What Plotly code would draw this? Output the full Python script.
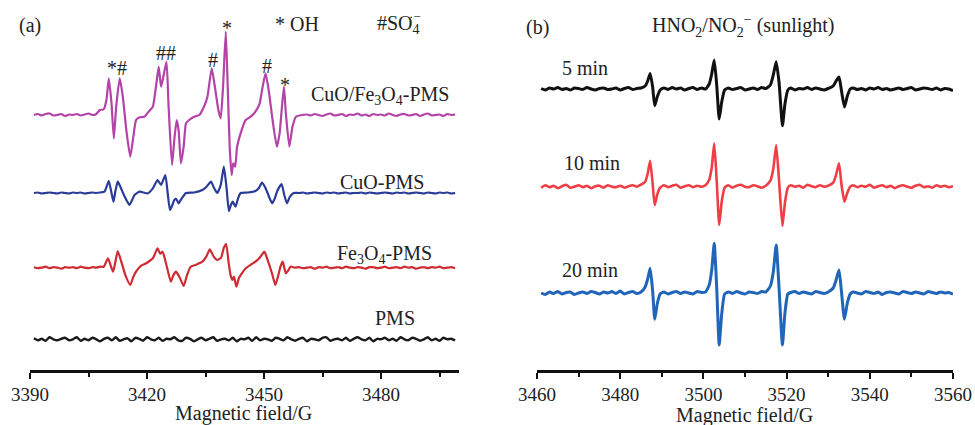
import plotly.graph_objects as go

# ================= Panel (a): DMPO spin-trap spectra (field in G, signal in relative units) =================
CUFE_X = [3391, 3392, 3393, 3394, 3395, 3396, 3397, 3398, 3399, 3400, 3401, 3402, 3403, 3404, 3405, 3406, 3407,
          3407.9, 3408.9, 3409.6, 3410.2, 3410.9, 3411.5, 3412.1, 3413.0, 3413.8, 3414.7, 3415.7, 3416.5, 3417.2,
          3418.1, 3419.3, 3420.4, 3421.5, 3422.3, 3423.0, 3423.6, 3424.2, 3425.0, 3425.5, 3426.4, 3427.0, 3427.6,
          3428.1, 3428.7, 3429.4, 3430.0, 3430.8, 3432.1, 3433.4, 3434.6, 3435.5, 3436.6, 3437.4, 3438.3, 3438.9,
          3439.5, 3440.2, 3440.7, 3441.2, 3441.7, 3442.1, 3442.6, 3443.1, 3444.0, 3445.3, 3446.6, 3447.8, 3448.9,
          3449.5, 3450.4, 3451.2, 3452.2, 3453.3, 3454.0, 3455.1, 3455.6, 3456.5, 3457.3, 3458.2, 3459.7,
          3461, 3462, 3463, 3464, 3465, 3466, 3467, 3468, 3469, 3470, 3471, 3472, 3473, 3474, 3475, 3476, 3477,
          3478, 3479, 3480, 3481, 3482, 3483, 3484, 3485, 3486, 3487, 3488, 3489, 3490, 3491, 3492, 3493, 3494,
          3495, 3496, 3497, 3498, 3499]
CUFE_Y = [0, 1, -0.5, 1, 1.5, -0.5, 0, 1, -1, 0.5, 0, 1, -0.5, 0.5, 1.5, 0, 1,
          5, 5.7, 15, 36.7, 11.7, -23.3, 8.3, 36.7, 18.3, -15, -41.7, -21.7, -5,
          -2.3, -1.7, 3.3, 8.3, 28.3, 48.3, 28.3, 38.3, 53.3, 11.7, -50, -25, -5,
          -15, -48.3, -31.7, -8.3, -5, -1.7, 0, 8.3, 18.3, 46.7, 28.3, 5, -3.3,
          28.3, 83.3, 28.3, -31.7, -60, -48.3, -51.7, -31.7, -18.3, -5, -1.7, 3.3, 11.7,
          25, 41.7, 25, -5, -31.7, -18.3, 28.3, 1.7, -31.7, -11.7, -1.7, 0,
          0.5, -0.5, 1, 0, -1, 0.5, 1.5, -0.5, 0, 1, -1, 0.5, 0, 1.5, -0.5, 0.5, -1,
          1, 0, 0.5, -0.5, 1.5, 0, -1, 0.5, 1, -0.5, 0, 1, -1, 0.5, 1.5, -0.5, 0,
          0.5, -1, 1, 0, 0.5]

CUO_X = [3391, 3392, 3393, 3394, 3395, 3396, 3397, 3398, 3399, 3400, 3401, 3402, 3403, 3404, 3405, 3406, 3407, 3408,
         3409.1, 3410.2, 3410.8, 3411.4, 3411.9, 3412.5, 3413.2, 3414.2, 3415.5, 3416.3, 3416.8, 3418.1, 3420.2,
         3421.5, 3422.7, 3423.6, 3424.7, 3425.3, 3425.9, 3426.5, 3427.0, 3427.5, 3428.1, 3428.8, 3430.0, 3432.1,
         3434.2, 3435.2, 3436.4, 3437.2, 3438.0, 3438.9, 3439.7, 3440.4, 3441.0, 3441.5, 3442.0, 3442.7, 3443.3,
         3444.0, 3445.9, 3447.8, 3448.7, 3449.5, 3450.5, 3451.2, 3452.1, 3452.8, 3453.5, 3454.5, 3455.2, 3455.9,
         3456.6, 3457.6,
         3459, 3460, 3461, 3462, 3463, 3464, 3465, 3466, 3467, 3468, 3469, 3470, 3471, 3472, 3473, 3474, 3475,
         3476, 3477, 3478, 3479, 3480, 3481, 3482, 3483, 3484, 3485, 3486, 3487, 3488, 3489, 3490, 3491, 3492,
         3493, 3494, 3495, 3496, 3497, 3498, 3499]
CUO_Y = [0, 0.5, -0.5, 0, 0.5, 0, -0.5, 0.5, 0, -0.5, 0.5, 0, 0.5, -0.5, 0, 0.5, 0, 0.5,
         1.3, 12, 2, -8.7, 2, 11.3, 6, -3, -12, -6, -2, 1.3, -0.3,
         4.7, 13, 8, 18, 0, -17, -12, -7, -6, -10.3, -6, 0, 0.5,
         3, 6, 11.3, 5, 0, 8, 26.3, 5, -18, -12, -8.7, -13.7, -6,
         0, 0.5, 2, 5, 10.3, 4, -3, -10.3, -5, 3, 9, -2, -10.3,
         -4, 0,
         0, 0.5, -0.5, 0, 0.5, 0, -0.5, 0.5, 0, 0.5, -0.5, 0, 0.5, -0.5, 0, 0, 0.5,
         -0.5, 0.5, 0, -0.5, 0, 0.5, 0, -0.5, 0.5, 0, 0.5, -0.5, 0, 0.5, 0, -0.5, 0.5,
         0, -0.5, 0.5, 0, 0.5, -0.5, 0]

FE_X = [3391, 3392, 3393, 3394, 3395, 3396, 3397, 3398, 3399, 3400, 3401, 3402, 3403, 3404, 3405, 3406, 3407, 3408,
        3408.9, 3410.0, 3410.7, 3411.3, 3411.9, 3412.5, 3413.4, 3414.5, 3415.7, 3416.5, 3417.2, 3418.5, 3419.8,
        3421.5, 3422.7, 3423.4, 3424.0, 3424.9, 3426.1, 3426.7, 3427.4, 3428.3, 3429.4, 3430.3, 3431.2, 3432.6,
        3434.2, 3435.2, 3436.1, 3437.1, 3438.0, 3439.0, 3439.7, 3440.3, 3440.9, 3441.4, 3441.9, 3442.3, 3442.9,
        3443.6, 3445.3, 3446.6, 3447.8, 3448.9, 3450.1, 3450.9, 3452.0, 3452.9, 3453.5, 3454.3, 3454.8, 3455.2,
        3455.6, 3456.2, 3456.8, 3457.9,
        3459, 3460, 3461, 3462, 3463, 3464, 3465, 3466, 3467, 3468, 3469, 3470, 3471, 3472, 3473, 3474, 3475,
        3476, 3477, 3478, 3479, 3480, 3481, 3482, 3483, 3484, 3485, 3486, 3487, 3488, 3489, 3490, 3491, 3492,
        3493, 3494, 3495, 3496, 3497, 3498, 3499]
FE_Y = [0.5, -0.5, 0, 1, -0.5, 0.5, 0, -1, 0.5, 0, 0.5, -0.5, 1, 0, -0.5, 0.5, 0, 1,
        1, 9.4, 2, -4, 6, 16.7, 6, -8, -17.3, -9, -4, 2, 4.4,
        9.4, 19.4, 14, 16, 4, -14, -8, -4, -9, -18.3, -7, 1, 3,
        6, 11, 18.4, 11, 7.7, 10, 20, 23.7, 6, -7, -12.3, -9, -19,
        -10, -0.6, 3, 6, 10, 16, 8, -5, -17.3, -10, 2, 6, 0,
        -5.6, -3, 1, 0,
        0.5, -0.5, 0, 0.5, -1, 0.5, 0, 1, -0.5, 0, 0.5, -0.5, 1, 0, -0.5, 0.5, 0,
        -1, 0.5, 0.5, -0.5, 0, 1, -0.5, 0, 0.5, -0.5, 1, 0, 0.5, -1, 0, 0.5, -0.5,
        0.5, 0, 1, -0.5, 0, 0.5, -0.5]

PMS_X = list(range(3391, 3500))
PMS_Y = [1, -1, 0.5, -1.5, 2, 0, -1, 0.5, 1.5, -1, 0, 2, -1.5, 0.5, -1, 1.5, 0, -2, 0.5, 1.5, -1, 2, -1.5, 0, 1, -2,
         1.5, 0.5, -1.5, 2, 0, -1, 1.5, -1.5, 0.5, 0, 2, -1, -1.5, 1.5, 0.5, -2, 0, 1.5, -1, 0.5, 2, -1.5, 0, 0.5,
         -1, 1.5, -2, 0.5, 0, 1.5, -1.5, 2, -1, 0.5, 0, -1.5, 1.5, 0.5, -1, 2, 0, -1.5, 0.5, 1.5, -2, 0.5, 0, -1,
         1.5, 2, -1.5, 0, 0.5, -1, 1.5, -1.5, 0.5, 2, 0, -1, 1.5, -2, 0.5, 0, 1.5, -1, 0.5, -1.5, 2, 0, -1, 1.5,
         0.5, -1.5, 0, 2, -1, 0.5, -1.5, 1.5, 0, 0.5, -1]

A_TICKS = [3390, 3420, 3450, 3480]
A_MINOR = [3405, 3435, 3465, 3495]

# ================= Panel (b): HNO2/NO2- under sunlight =================
B_X = [3461, 3462, 3463, 3464, 3465, 3466, 3467, 3468, 3469, 3470, 3471, 3472, 3473, 3474, 3475, 3476, 3477,
       3478, 3479, 3480, 3481, 3482, 3483, 3484, 3485,
       3486, 3486.6, 3487.2, 3487.8, 3488.3, 3488.9, 3489.6,
       3490.5, 3491.5, 3492.5, 3493.5, 3494.5, 3495.5, 3496.5, 3497.5, 3498.5, 3499.5, 3500.5,
       3501.4, 3502.0, 3502.6, 3503.2, 3503.8, 3504.4, 3505.1,
       3506, 3507, 3508, 3509, 3510, 3511, 3512, 3513, 3514, 3515,
       3516.1, 3516.8, 3517.5, 3518.2, 3519.0, 3519.6, 3520.3,
       3521, 3522, 3523, 3524, 3525, 3526, 3527, 3528, 3529, 3530,
       3531.2, 3531.9, 3532.6, 3533.2, 3533.9, 3534.6, 3535.3,
       3536, 3537, 3538, 3539, 3540, 3541, 3542, 3543, 3544, 3545, 3546, 3547, 3548, 3549, 3550, 3551, 3552,
       3553, 3554, 3555, 3556, 3557, 3558, 3559, 3560]
MIN5_Y = [0.5, -1, 1, 0, 1.5, -0.5, 0.5, -1, 1, 0.5, -0.5, 1.5, 0, -1, 0.5, 1, -0.5, 0, 1, -1, 0.5, 1.5, -0.5, 0.5, 1,
          3, 8, 15.6, 2, -16.7, -8, -1,
          1, -0.5, 1.5, 0, 1, -1, 0.5, 1.5, -0.5, 1, 0,
          5, 15, 29, 4, -30, -13, -1,
          1, -0.5, 0.5, 1.5, -1, 0, 1, -0.5, 1.5, 0.5,
          4, 14, 27.3, 6, -36.7, -15, -1,
          1, -1, 0.5, 0, 1.5, -0.5, 1, 0, -1, 0.5,
          3, 8, 12, -2, -18, -7, 0,
          1, -0.5, 0.5, -1, 1, 0, 1.5, -0.5, 0.5, -1, 0, 1, -0.5, 0.5, 1.5, -1, 0, 1, 0.5, -0.5, 1, -1, 0.5, 0, -1.5]
MIN10_Y = [-1, 1.5, -0.5, 1, -1.5, 0.5, 2, -1, 0, 1.5, -0.5, 1, -1.5, 0.5, 1, -1, 1.5, 0, -0.5, 1, -1, 0.5, 1.5, 0, 2,
           5, 13, 26, 3, -18.3, -8, -1,
           1.5, -0.5, 1, 2, -1, 0.5, 1.5, -0.5, 1, 0, 1.5,
           7, 19, 43.4, 6, -38.3, -15, -1,
           1.5, -1, 1, 2, 0, -0.5, 1.5, 0.5, -1, 1,
           6, 18, 41.7, 5, -39.3, -16, -1,
           1.5, 0, 1, -1, 2, 0.5, -0.5, 1.5, 0, 1,
           4, 12, 23.4, 2, -15, -6, 0,
           1.5, -0.5, 1, 0, 2, -1, 0.5, 1.5, -0.5, 1, -1.5, 0.5, 1.5, 0, -1, 1, 2, -0.5, 0.5, -1, 1.5, 0, 1, -0.5, 0.5]
MIN20_Y = [0, -1.5, 1, -0.5, 1.5, -1, 0.5, 1, -1.5, 0, 1, -0.5, 1.5, 0.5, -1, 1, 0, 1.5, -0.5, 2, -1, 0.5, 1.5, -0.5, 1,
           6, 14, 24.7, 2, -26.3, -11, -1,
           1, -1, 0.5, 1.5, -0.5, 1, 0, -1, 1.5, 0.5, 1,
           8, 23, 49.7, 5, -52, -21, -1,
           1, -0.5, 1.5, 0, -1, 1, 0.5, -0.5, 1.5, 1,
           7, 21, 48, 4, -52, -20, -1,
           0.5, 1.5, -0.5, 1, 0, -1, 1.5, 0.5, -0.5, 1,
           5, 13, 23, 1, -26.3, -10, -1,
           1, 0, -1, 1.5, 0.5, -0.5, 1, -1.5, 0.5, 1, 0, -1, 1.5, 0.5, -0.5, 1, 0, -1, 1.5, 0.5, -0.5, 1, 0, 0.5, -1]

B_TICKS = [3460, 3480, 3500, 3520, 3540, 3560]
B_MINOR = [3470, 3490, 3510, 3530, 3550]

for xs, ys in [(CUFE_X, CUFE_Y), (CUO_X, CUO_Y), (FE_X, FE_Y), (PMS_X, PMS_Y),
               (B_X, MIN5_Y), (B_X, MIN10_Y), (B_X, MIN20_Y)]:
    assert len(xs) == len(ys), (len(xs), len(ys))

# ================= figure =================
W, H = 975, 425
AXIS_ROW = 370        # pixel row of the x-axis lines
BOTTOM = AXIS_ROW
FONT = "Liberation Serif"

fig = go.Figure()


def add(xs, ys, offset, color, width, axis):
    fig.add_trace(go.Scatter(x=xs, y=[v + offset for v in ys], mode="lines",
                             line=dict(color=color, width=width, shape="spline", smoothing=0.5),
                             xaxis=axis, yaxis="y", hoverinfo="skip", showlegend=False))


add(CUFE_X, CUFE_Y, 255, "#b343a8", 2.2, "x")
add(CUO_X, CUO_Y, 177, "#2b3b98", 2.2, "x")
add(FE_X, FE_Y, 102.3, "#cf2b33", 2.2, "x")
add(PMS_X, PMS_Y, 30.7, "#1a1a1a", 2.4, "x")
add(B_X, MIN5_Y, 281, "#111111", 3, "x2")
add(B_X, MIN10_Y, 183.3, "#ef3e45", 2.6, "x2")
add(B_X, MIN20_Y, 77, "#2165b8", 3, "x2")


def ann(text, x, y, size=20, xanchor="center"):
    fig.add_annotation(text=text, x=x / W, y=(AXIS_ROW - y) / BOTTOM, xref="paper", yref="paper",
                       xanchor=xanchor, yanchor="middle", showarrow=False,
                       font=dict(family=FONT, size=size, color="#222"))


# panel (a) texts
ann("(a)", 30, 26)
ann("* OH", 273, 24, xanchor="left")
ann("#SO<sub>4</sub>", 375, 24, xanchor="left")
ann("·\u2212", 415, 16, size=13)
ann("*#", 117, 68)
ann("##", 166, 53)
ann("#", 213, 60)
ann("*", 227, 28)
ann("#", 267, 66)
ann("*", 285, 85)
ann("CuO/Fe<sub>3</sub>O<sub>4</sub>-PMS", 452, 95, xanchor="right")
ann("CuO-PMS", 426, 182, xanchor="right")
ann("Fe<sub>3</sub>O<sub>4</sub>-PMS", 434, 254, xanchor="right")
ann("PMS", 417, 318, xanchor="right")
ann("Magnetic field/G", 243, 413)

# panel (b) texts
ann("(b)", 537, 27)
ann("HNO<sub>2</sub>/NO<sub>2</sub><sup>\u2212</sup> (sunlight)", 743, 26)
ann("5 min", 560, 68, xanchor="left")
ann("10 min", 562, 163, xanchor="left")
ann("20 min", 560, 270, xanchor="left")
ann("Magnetic field/G", 744, 415)

axis_common = dict(anchor="y", showline=True, linecolor="#111", linewidth=2.5, mirror=False,
                   ticks="outside", ticklen=6, tickwidth=2, tickcolor="#111", showgrid=False,
                   zeroline=False, fixedrange=True, automargin=False,
                   tickfont=dict(family=FONT, size=19, color="#222"))

fig.update_layout(
    width=W, height=H, autosize=False,
    margin=dict(l=0, r=0, t=0, b=H - BOTTOM, pad=0, autoexpand=False),
    paper_bgcolor="white", plot_bgcolor="white", showlegend=False,
    xaxis=dict(domain=[30 / W, 459 / W], range=[3390, 3500], tickmode="array", tickvals=A_TICKS,
               minor=dict(tickmode="array", tickvals=A_MINOR, ticks="outside", ticklen=4, tickwidth=2,
                          tickcolor="#111"), **axis_common),
    xaxis2=dict(domain=[537 / W, 953 / W], range=[3460, 3560], tickmode="array", tickvals=B_TICKS,
                minor=dict(tickmode="array", tickvals=B_MINOR, ticks="outside", ticklen=4, tickwidth=2,
                           tickcolor="#111"), **axis_common),
    yaxis=dict(range=[0, BOTTOM], visible=False, fixedrange=True, automargin=False),
)

# place the figure flush with the page corner (no default body margin, no scrollbars, no mode bar)
fig.write_html("out.html",
               config={"displayModeBar": False, "staticPlot": True},
               post_script="document.body.style.margin='0';"
                           "document.documentElement.style.overflow='hidden';"
                           "document.body.style.overflow='hidden';")
